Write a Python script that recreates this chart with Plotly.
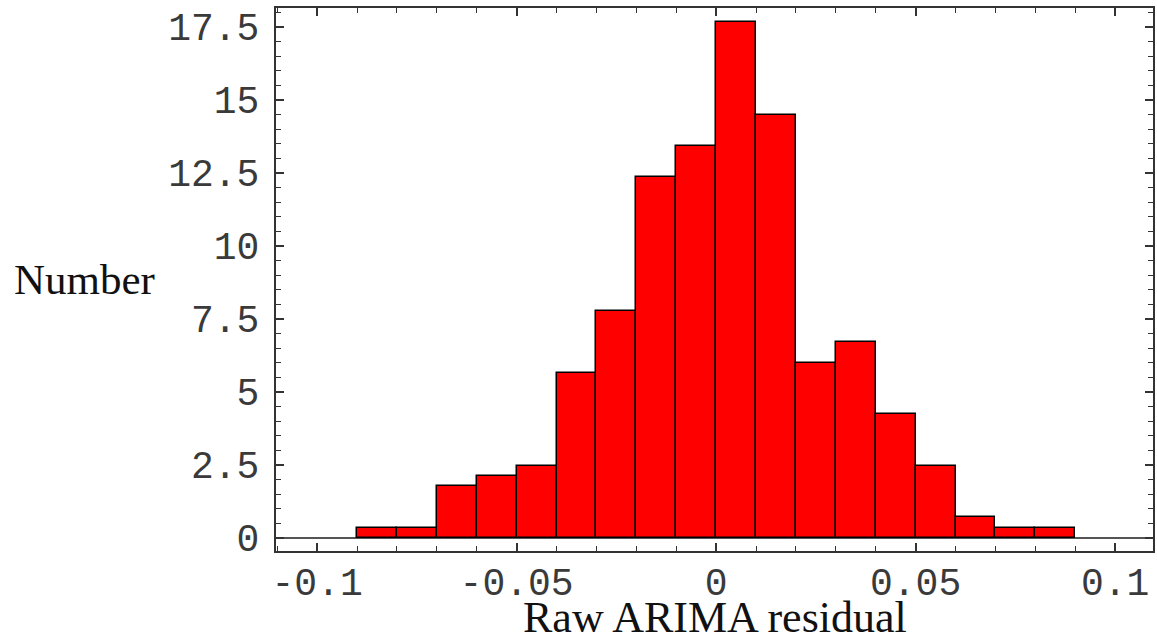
import plotly.graph_objects as go

# Histogram bins (left edges) and heights
bin_left = [-0.09, -0.08, -0.07, -0.06, -0.05, -0.04, -0.03, -0.02, -0.01,
            0.00, 0.01, 0.02, 0.03, 0.04, 0.05, 0.06, 0.07, 0.08]
bin_width = 0.01
heights = [0.35, 0.35, 1.77, 2.12, 2.47, 5.65, 7.77, 12.36, 13.43,
           17.67, 14.49, 6.01, 6.71, 4.24, 2.47, 0.71, 0.35, 0.35]

x_tickvals = [-0.1, -0.05, 0, 0.05, 0.1]
x_ticktext = ["-0.1", "-0.05", "0", "0.05", "0.1"]
y_tickvals = [0, 2.5, 5, 7.5, 10, 12.5, 15, 17.5]
y_ticktext = ["0", "2.5", "5", "7.5", "10", "12.5", "15", "17.5"]

x_title = "Raw ARIMA residual"
y_title = "Number"

centers = [b + bin_width / 2 for b in bin_left]

fig = go.Figure()
fig.add_trace(go.Bar(
    x=centers, y=heights, width=[bin_width] * len(heights),
    marker=dict(color="#FF0000", line=dict(color="#000000", width=1.5)),
    showlegend=False, hoverinfo="x+y",
))

frame = "#333333"
mono = "Liberation Mono, Courier New, monospace"
serif = "Liberation Serif, Times New Roman, serif"

fig.update_layout(
    width=1157, height=639,
    margin=dict(l=276, r=2, t=8, b=88),
    paper_bgcolor="white", plot_bgcolor="white",
    bargap=0,
    xaxis=dict(
        range=[-0.1103, 0.1095],
        tickvals=x_tickvals, ticktext=x_ticktext,
        ticks="inside", ticklen=8, tickwidth=1.5, tickcolor=frame,
        minor=dict(dtick=0.01, tick0=0, ticks="inside", ticklen=5, tickwidth=1.2, tickcolor=frame),
        showline=True, linecolor=frame, linewidth=2, mirror="ticks",
        showgrid=False, zeroline=False,
        tickfont=dict(family=mono, size=38, color="#3a3a3a"),
        ticklabelstandoff=-4,
    ),
    yaxis=dict(
        range=[-0.445, 18.15],
        tickvals=y_tickvals, ticktext=y_ticktext,
        ticks="inside", ticklen=8, tickwidth=1.5, tickcolor=frame,
        minor=dict(dtick=0.5, tick0=0, ticks="inside", ticklen=5, tickwidth=1.2, tickcolor=frame),
        showline=True, linecolor=frame, linewidth=2, mirror="ticks",
        showgrid=False, zeroline=True, zerolinecolor="#555555", zerolinewidth=1.5,
        tickfont=dict(family=mono, size=38, color="#3a3a3a"),
        ticklabelstandoff=7,
    ),
    annotations=[
        dict(text=x_title, xref="paper", yref="paper", x=0.5, y=0,
             yshift=-40, xanchor="center", yanchor="top", showarrow=False,
             font=dict(family=serif, size=44, color="#111111")),
        dict(text=y_title, xref="paper", yref="paper", x=0, y=0.5,
             xshift=-264, xanchor="left", yanchor="middle", showarrow=False,
             font=dict(family=serif, size=43, color="#111111")),
    ],
)

fig.write_html("out.html")
